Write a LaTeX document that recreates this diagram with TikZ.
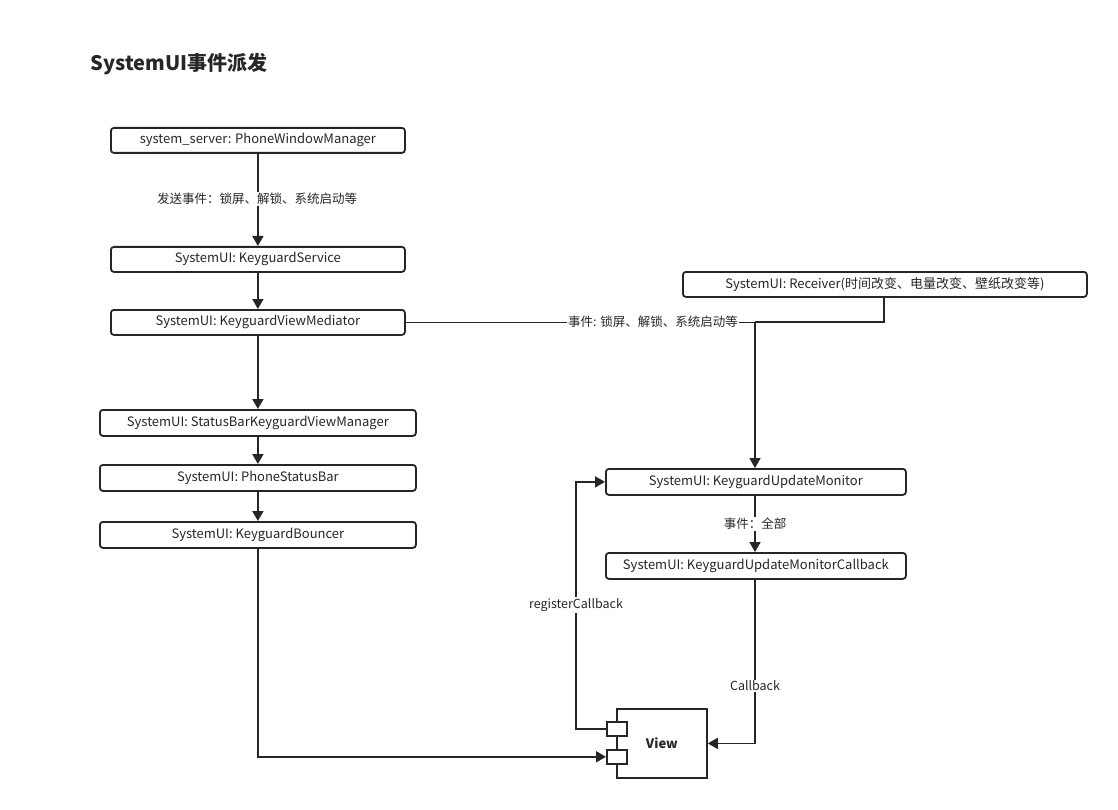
\documentclass[tikz,border=0pt]{standalone}
\usepackage{fontspec}
\setmainfont{Noto Sans CJK SC}
\usetikzlibrary{arrows.meta}
\tikzset{
  box/.style={draw=black!85, line width=1.8pt, rounded corners=3pt, inner sep=0pt, anchor=north west},
  port/.style={draw=black!85, line width=1.6pt, fill=white, inner sep=0pt, anchor=north west, minimum width=20pt, minimum height=14pt},
  conn/.style={draw=black!85, line width=1.8pt},
  arr/.style={conn, -{Triangle[length=10pt,width=11pt]}},
  lbl/.style={fill=white, inner sep=1pt, font=\fontsize{12.5}{14}\selectfont, text=black!85},
  txt/.style={font=\fontsize{13}{15}\selectfont, text=black!85}
}
\newcommand{\mkbox}[6]{% name, x1, y1, x2, y2, text
  \node[box, minimum width=#4pt-#2pt, minimum height=#5pt-#3pt] (#1) at (#2,#3) {};
  \node[txt] at (#1.center) {#6};
}
\begin{document}
\begin{tikzpicture}[x=1pt, y=-1pt]
\useasboundingbox (0,0) rectangle (1118,810);

\node[anchor=west, font=\fontsize{20}{24}\selectfont\bfseries, text=black!85] (title) at (87,64) {SystemUI事件派发};

\mkbox{pwm}{110}{127}{404}{152}{system\_server: PhoneWindowManager}
\mkbox{ks}{110}{246}{404}{271}{SystemUI: KeyguardService}
\mkbox{kvm}{110}{309}{404}{334}{SystemUI: KeyguardViewMediator}
\mkbox{sbk}{99}{409}{415}{435}{SystemUI: StatusBarKeyguardViewManager}
\mkbox{psb}{99}{464}{415}{490}{SystemUI: PhoneStatusBar}
\mkbox{kb}{99}{521}{415}{547}{SystemUI: KeyguardBouncer}
\mkbox{rcv}{682}{271}{1086}{296}{SystemUI: Receiver(时间改变、电量改变、壁纸改变等)}
\mkbox{kum}{605}{468}{905}{494}{SystemUI: KeyguardUpdateMonitor}
\mkbox{kumc}{605}{552}{905}{578}{SystemUI: KeyguardUpdateMonitorCallback}

% View component with two ports
\node[draw=black!85, line width=1.8pt, inner sep=0pt, anchor=north west, minimum width=90pt, minimum height=69pt] (view) at (616,708) {};
\node[font=\fontsize{13}{15}\selectfont\bfseries, text=black!85] at (view.center) {View};
\node[port] (p1) at (606,721) {};
\node[port] (p2) at (606,749) {};

% left column flow
\draw[arr] (pwm.south) -- (ks.north);
\node[lbl] at (257,199) {发送事件：锁屏、解锁、系统启动等};
\draw[arr] (ks.south) -- (kvm.north);
\draw[arr] (kvm.south) -- (kvm.south |- sbk.north);
\draw[arr] (kvm.south |- sbk.south) -- (kvm.south |- psb.north);
\draw[arr] (kvm.south |- psb.south) -- (kvm.south |- kb.north);
\draw[arr] (kvm.south |- kb.south) |- (p2.west);

% events into KeyguardUpdateMonitor
\coordinate (join) at (755,322);
\draw[conn] (rcv.south -| 884,0) |- (join);
\draw[conn] (kvm.east) -- (kvm.east -| join);
\draw[arr] (join) -- (kum.north -| join);
\node[lbl] at (653,322) {事件: 锁屏、解锁、系统启动等};

\draw[arr] (kum.south -| 755,0) -- (kumc.north -| 755,0);
\node[lbl] at (755,524) {事件：全部};

\draw[arr] (kumc.south -| 755,0) |- (view.east);
\node[lbl] at (755,686) {Callback};

\draw[arr] (p1.west) -| (576,605) |- (kum.west);
\node[lbl] at (576,605) {registerCallback};
\end{tikzpicture}
\end{document}
